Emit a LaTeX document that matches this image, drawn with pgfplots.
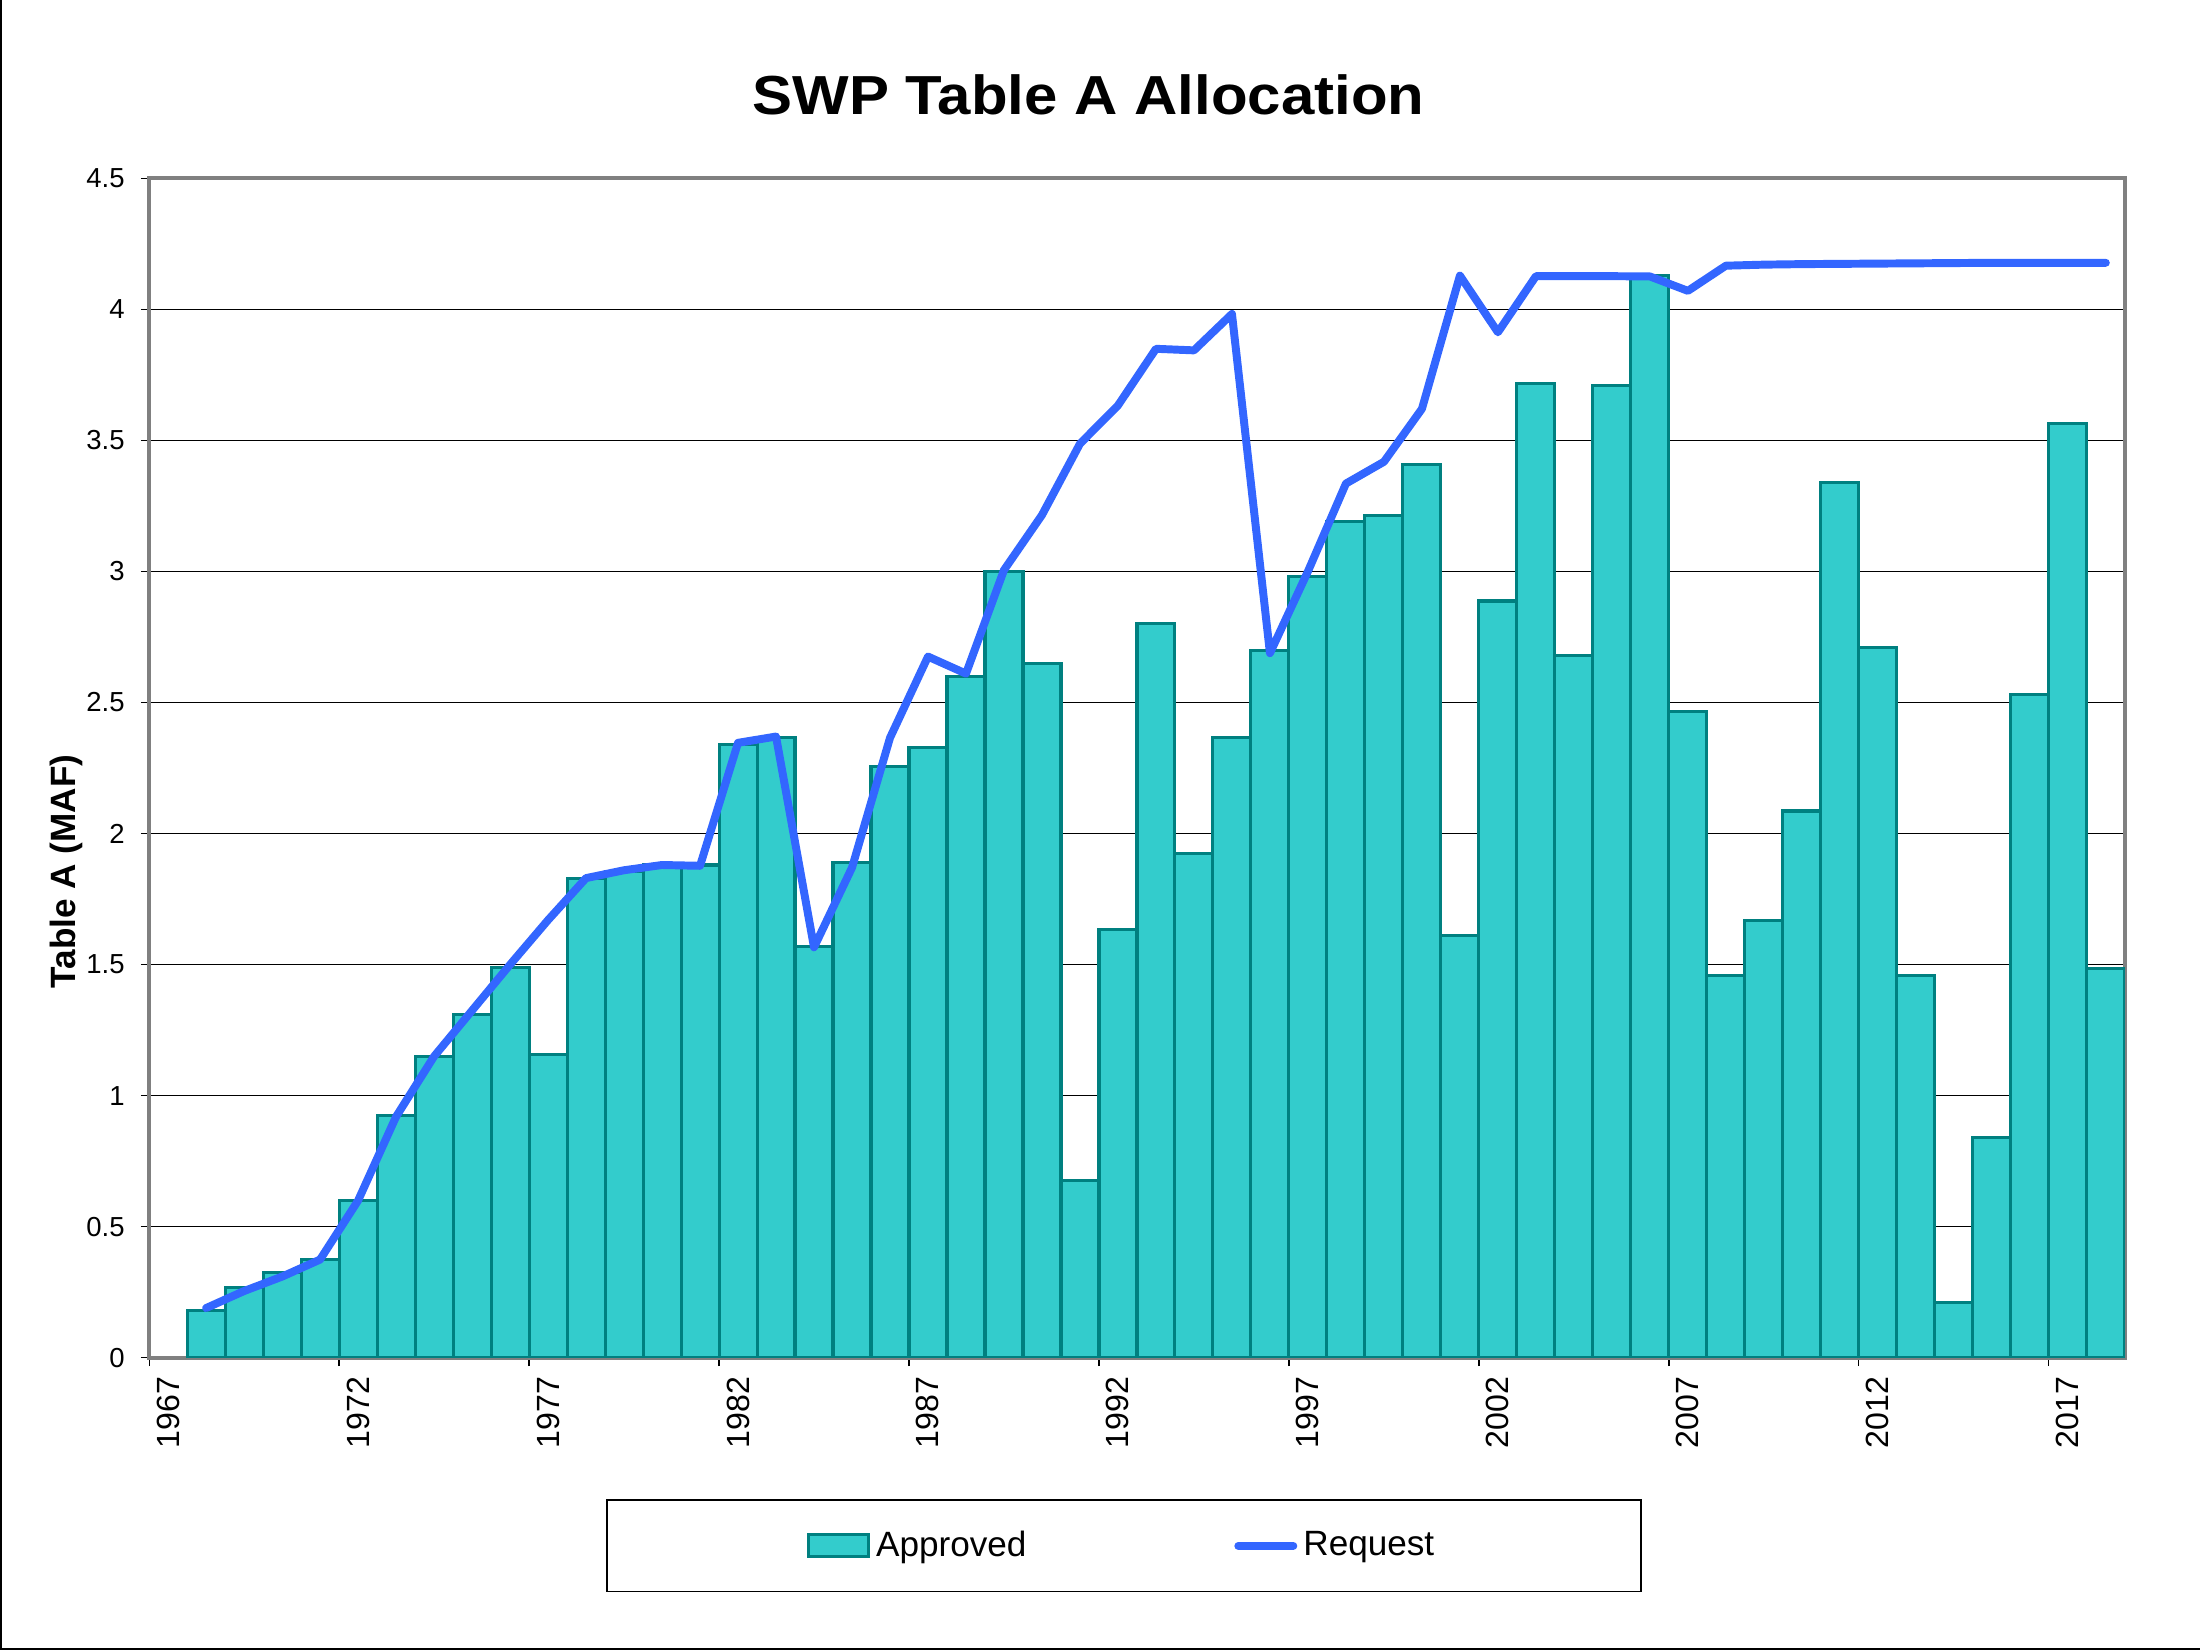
\documentclass[border=0pt]{standalone}
\usepackage{fontspec}
\setmainfont{Liberation Sans}
\newfontfamily\titlefont{Liberation Sans}[FakeStretch=1.09]
\usepackage{pgfplots}
\usepackage{pgfplotstable}
\pgfplotsset{compat=1.18}
\definecolor{barfill}{HTML}{33CCCC}
\definecolor{baredge}{HTML}{008080}
\definecolor{reqline}{HTML}{3366FF}
\definecolor{axgray}{HTML}{808080}

% x = slot centre (year + 0.5)
\pgfplotstableread{
x approved
1968.5 0.18
1969.5 0.27
1970.5 0.326
1971.5 0.377
1972.5 0.60
1973.5 0.925
1974.5 1.15
1975.5 1.31
1976.5 1.49
1977.5 1.156
1978.5 1.83
1979.5 1.855
1980.5 1.88
1981.5 1.88
1982.5 2.34
1983.5 2.365
1984.5 1.57
1985.5 1.89
1986.5 2.255
1987.5 2.327
1988.5 2.598
1989.5 3.0
1990.5 2.647
1991.5 0.675
1992.5 1.635
1993.5 2.80
1994.5 1.925
1995.5 2.368
1996.5 2.70
1997.5 2.98
1998.5 3.19
1999.5 3.214
2000.5 3.407
2001.5 1.61
2002.5 2.887
2003.5 3.716
2004.5 2.68
2005.5 3.71
2006.5 4.128
2007.5 2.464
2008.5 1.457
2009.5 1.668
2010.5 2.086
2011.5 3.339
2012.5 2.71
2013.5 1.46
2014.5 0.213
2015.5 0.839
2016.5 2.53
2017.5 3.563
2018.5 1.484
}\approvedtable

\pgfplotstableread{
x request
1968.5 0.19
1969.5 0.255
1970.5 0.31
1971.5 0.375
1972.5 0.60
1973.5 0.92
1974.5 1.15
1975.5 1.325
1976.5 1.50
1977.5 1.67
1978.5 1.83
1979.5 1.86
1980.5 1.88
1981.5 1.877
1982.5 2.346
1983.5 2.37
1984.5 1.566
1985.5 1.87
1986.5 2.365
1987.5 2.675
1988.5 2.61
1989.5 3.005
1990.5 3.215
1991.5 3.487
1992.5 3.633
1993.5 3.849
1994.5 3.843
1995.5 3.982
1996.5 2.688
1997.5 3.0
1998.5 3.335
1999.5 3.418
2000.5 3.62
2001.5 4.128
2002.5 3.912
2003.5 4.126
2004.5 4.126
2005.5 4.126
2006.5 4.125
2007.5 4.07
2008.5 4.166
2009.5 4.17
2010.5 4.172
2011.5 4.173
2012.5 4.174
2013.5 4.175
2014.5 4.176
2015.5 4.177
2016.5 4.177
2017.5 4.177
2018.5 4.177
}\requesttable

\begin{document}
\begin{tikzpicture}
\path[use as bounding box] (0,0) rectangle (720pt,540pt);
\draw[black, line width=0.7pt] (0.35pt,540pt) -- (0.35pt,0.35pt) -- (720pt,0.35pt);
\begin{axis}[
  at={(48.8pt,95.6pt)}, anchor=south west,
  scale only axis, width=646.6pt, height=386.1pt,
  xmin=1967, xmax=2019, ymin=0, ymax=4.5,
  xtick={1967,1972,1977,1982,1987,1992,1997,2002,2007,2012,2017},
  xticklabels={1967,1972,1977,1982,1987,1992,1997,2002,2007,2012,2017},
  ytick={0,0.5,1,1.5,2,2.5,3,3.5,4,4.5},
  yticklabels={0,0.5,1,1.5,2,2.5,3,3.5,4,4.5},
  ymajorgrids,
  grid style={black, line width=0.45pt},
  axis line style={axgray, line width=1.2pt},
  tick style={black, line width=0.4pt},
  tick align=outside, tick pos=left,
  major tick length=2.7pt,
  /pgf/number format/assume math mode=true,
  yticklabel style={font=\fontsize{9}{10}\selectfont, xshift=-1.8pt},
  xticklabel style={font=\fontsize{10.5}{12}\selectfont, rotate=90, anchor=east, yshift=-6.2pt},
  legend columns=2,
  legend style={at={(axis description cs:0.4933,-0.1594)}, anchor=center,
    draw=black, line width=0.6pt, inner xsep=65.6pt, inner ysep=8pt,
    font=\fontsize{11.5}{13}\selectfont,
    /tikz/every even column/.append style={column sep=66pt},
    cells={anchor=west}},
]
\addplot[ybar, bar width=1, bar shift=0pt, fill=barfill, draw=baredge, line width=1pt,
  legend image code/.code={\draw[fill=barfill, draw=baredge, line width=1pt] (0pt,-3.6pt) rectangle (19.6pt,3.6pt);}]
  table[x=x, y=approved] {\approvedtable};
\addlegendentry{Approved}
\addplot[reqline, line width=2.6pt, line join=round, line cap=round, mark=none,
  legend image code/.code={\draw[reqline, line width=2.6pt, line cap=round] (1pt,0pt) -- (19pt,0pt);}]
  table[x=x, y=request] {\requesttable};
\addlegendentry{Request}
\end{axis}
\node[anchor=base, font=\titlefont\bfseries\fontsize{18}{21}\selectfont] at (356.2pt,502.5pt) {SWP Table A Allocation};
\node[rotate=90, font=\bfseries\fontsize{11.5}{13}\selectfont] at (21.6pt,254.8pt) {Table A (MAF)};
\end{tikzpicture}
\end{document}
